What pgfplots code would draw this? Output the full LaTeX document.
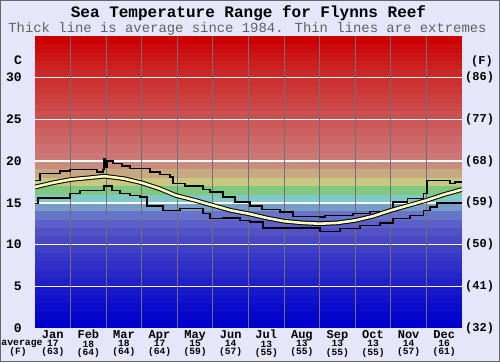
\documentclass[border=0pt]{standalone}
\usepackage{pgfplots}
\pgfplotsset{compat=1.18}
\usepackage{pgfplotstable}
\usepackage{fontspec}
\setmainfont{Liberation Sans}
\newfontfamily\mono{Liberation Mono}
\newcommand{\ml}[3]{{\fontsize{12}{12}\selectfont #1}\\[-1.6pt]{\fontsize{9.6}{10}\selectfont #2}\\[-1.6pt]{\fontsize{9.6}{10}\selectfont (#3)}}
\definecolor{bgcol}{RGB}{230,230,250}
\definecolor{meanyel}{RGB}{255,255,192}
\definecolor{gridgray}{RGB}{112,112,112}
\definecolor{b0}{RGB}{0,0,204}
\definecolor{b1}{RGB}{6,6,204}
\definecolor{b2}{RGB}{12,12,204}
\definecolor{b3}{RGB}{18,18,204}
\definecolor{b4}{RGB}{24,24,204}
\definecolor{b5}{RGB}{32,32,200}
\definecolor{b6}{RGB}{40,40,200}
\definecolor{b7}{RGB}{48,48,200}
\definecolor{b8}{RGB}{56,56,200}
\definecolor{b9}{RGB}{64,64,200}
\definecolor{b10}{RGB}{72,72,196}
\definecolor{b11}{RGB}{82,82,196}
\definecolor{b12}{RGB}{92,96,200}
\definecolor{b13}{RGB}{104,116,200}
\definecolor{b14}{RGB}{120,156,200}
\definecolor{b15}{RGB}{128,200,200}
\definecolor{b16}{RGB}{128,200,128}
\definecolor{b17}{RGB}{200,200,128}
\definecolor{b18}{RGB}{200,168,128}
\definecolor{b19}{RGB}{200,140,124}
\definecolor{b20}{RGB}{204,120,120}
\definecolor{b21}{RGB}{204,112,112}
\definecolor{b22}{RGB}{204,104,104}
\definecolor{b23}{RGB}{204,96,96}
\definecolor{b24}{RGB}{204,88,88}
\definecolor{b25}{RGB}{204,80,80}
\definecolor{b26}{RGB}{204,72,72}
\definecolor{b27}{RGB}{204,64,64}
\definecolor{b28}{RGB}{204,56,56}
\definecolor{b29}{RGB}{204,48,48}
\definecolor{b30}{RGB}{204,40,40}
\definecolor{b31}{RGB}{204,32,32}
\definecolor{b32}{RGB}{204,22,22}
\definecolor{b33}{RGB}{204,12,12}
\definecolor{b34}{RGB}{204,0,0}

\pgfplotstableread{
x y
0 16.9
0.5 17.4
1.0 17.8
1.5 18.0
1.95 18.2
2.5 17.9
3.0 17.4
3.5 16.7
3.95 15.9
4.5 15.3
5.0 14.7
5.5 14.1
6.0 13.7
6.5 13.2
7.0 12.8
7.5 12.6
8.0 12.5
8.5 12.6
9.0 12.9
9.5 13.4
10.0 14.1
10.5 14.7
11.0 15.3
11.5 16.0
12.0 16.6
}\meandata

\pgfplotstableread{
x y
0 17.7
0.14 18.5
0.70 18.8
0.98 19.0
1.74 18.7
1.91 19.0
1.94 20.3
1.97 19.3
2.02 20.0
2.19 19.7
2.45 19.4
2.67 19.1
3.23 18.7
3.51 18.4
3.79 18.1
3.88 17.3
4.22 17.0
4.72 16.6
4.92 16.3
5.28 15.7
5.62 15.1
6.04 14.6
6.38 14.2
6.89 13.9
7.25 13.4
8.01 13.3
8.15 13.5
8.94 13.7
9.42 14.0
9.98 14.3
10.06 15.1
10.46 15.5
10.91 16.1
11.02 17.7
11.66 17.3
11.80 17.5
12 17.5
}\maxdata

\pgfplotstableread{
x y
0 14.9
0.08 15.6
0.98 16.1
1.26 16.5
1.94 17.0
2.16 16.5
2.39 16.1
2.67 15.9
2.95 15.7
3.15 14.6
3.60 14.1
4.08 14.3
4.72 13.7
4.92 13.1
5.28 13.2
5.76 12.9
6.04 12.7
6.41 12.0
8.01 11.6
8.57 11.9
9.13 12.3
9.70 12.6
10.06 13.1
10.54 13.5
10.91 14.1
11.10 14.5
11.30 15.0
12 15.0
}\mindata

\begin{document}
\begin{tikzpicture}[x=1pt,y=1pt]
\fill[bgcol] (0,0) rectangle (500,362);
\draw[gray!80!black, line width=1pt] (0.5,0.5) rectangle (499.5,361.5);
\node[font=\mono\bfseries\fontsize{16}{16}\selectfont, anchor=base] at (248.5,344.7) {Sea Temperature Range for Flynns Reef};
\node[font=\mono\fontsize{13.9}{14}\selectfont, text=black!62, anchor=base] at (247.5,329.7) {Thick line is average since 1984. Thin lines are extremes};
\node[font=\mono\bfseries\fontsize{13}{13}\selectfont, anchor=base] at (18,297) {C};
\node[font=\mono\bfseries\fontsize{12}{12}\selectfont, anchor=base] at (482,297) {(F)};
\node[font=\mono\bfseries\fontsize{9.8}{10}\selectfont, anchor=base] at (22,16.3) {average};
\node[font=\mono\bfseries\fontsize{9.6}{10}\selectfont, anchor=base] at (18,8) {(F)};
\begin{axis}[
  at={(35pt,34pt)}, anchor=south west,
  width=427pt, height=292pt, scale only axis,
  xmin=0, xmax=12, ymin=0, ymax=35,
  axis line style={draw=none},
  xtick={0.5,1.5,2.5,3.5,4.5,5.5,6.5,7.5,8.5,9.5,10.5,11.5},
  xticklabels={\ml{Jan}{17}{63},\ml{Feb}{18}{64},\ml{Mar}{18}{64},\ml{Apr}{17}{64},
    \ml{May}{15}{59},\ml{Jun}{14}{57},\ml{Jul}{13}{55},\ml{Aug}{13}{55},
    \ml{Sep}{13}{55},\ml{Oct}{13}{55},\ml{Nov}{14}{57},\ml{Dec}{16}{61}},
  xticklabel style={font=\mono\bfseries\fontsize{9.6}{10}\selectfont, align=center, anchor=north, inner sep=0pt, yshift=-2pt},
  ytick={0,5,10,15,20,25,30},
  yticklabels={0,5,10,15,20,25,30},
  yticklabel style={font=\mono\bfseries\fontsize{13}{13}\selectfont, anchor=east, inner sep=0pt, xshift=-13pt},
  major tick length=0pt,
]
\pgfplotsinvokeforeach{0,...,34}{\fill[b#1] (axis cs:0,#1) rectangle (axis cs:12,35);}
\pgfplotsinvokeforeach{5,10,15,20,25,30}{\draw[white, line width=1.5pt] (axis cs:0,#1) -- (axis cs:12,#1);}
\pgfplotsinvokeforeach{1,...,11}{\draw[gridgray, line width=0.9pt] (axis cs:#1,0) -- (axis cs:#1,35);}
\addplot[const plot, black, line width=1.4pt] table {\maxdata};
\addplot[const plot, black, line width=1.4pt] table {\mindata};
\addplot[black, line width=4.6pt, line join=round] table {\meandata};
\addplot[meanyel, line width=2.6pt, line join=round] table {\meandata};
\end{axis}
\begin{axis}[
  at={(35pt,34pt)}, anchor=south west,
  width=427pt, height=292pt, scale only axis,
  xmin=0, xmax=12, ymin=0, ymax=35,
  hide x axis, axis y line*=right,
  axis line style={draw=none},
  ytick={0,5,10,15,20,25,30},
  yticklabels={(32),(41),(50),(59),(68),(77),(86)},
  yticklabel style={font=\mono\bfseries\fontsize{12}{12}\selectfont, anchor=west, inner sep=0pt, xshift=3pt},
  major tick length=0pt,
]
\addplot[draw=none] coordinates {(0,0)};
\end{axis}
\pgfresetboundingbox
\useasboundingbox (0,0) rectangle (500,362);
\end{tikzpicture}
\end{document}
